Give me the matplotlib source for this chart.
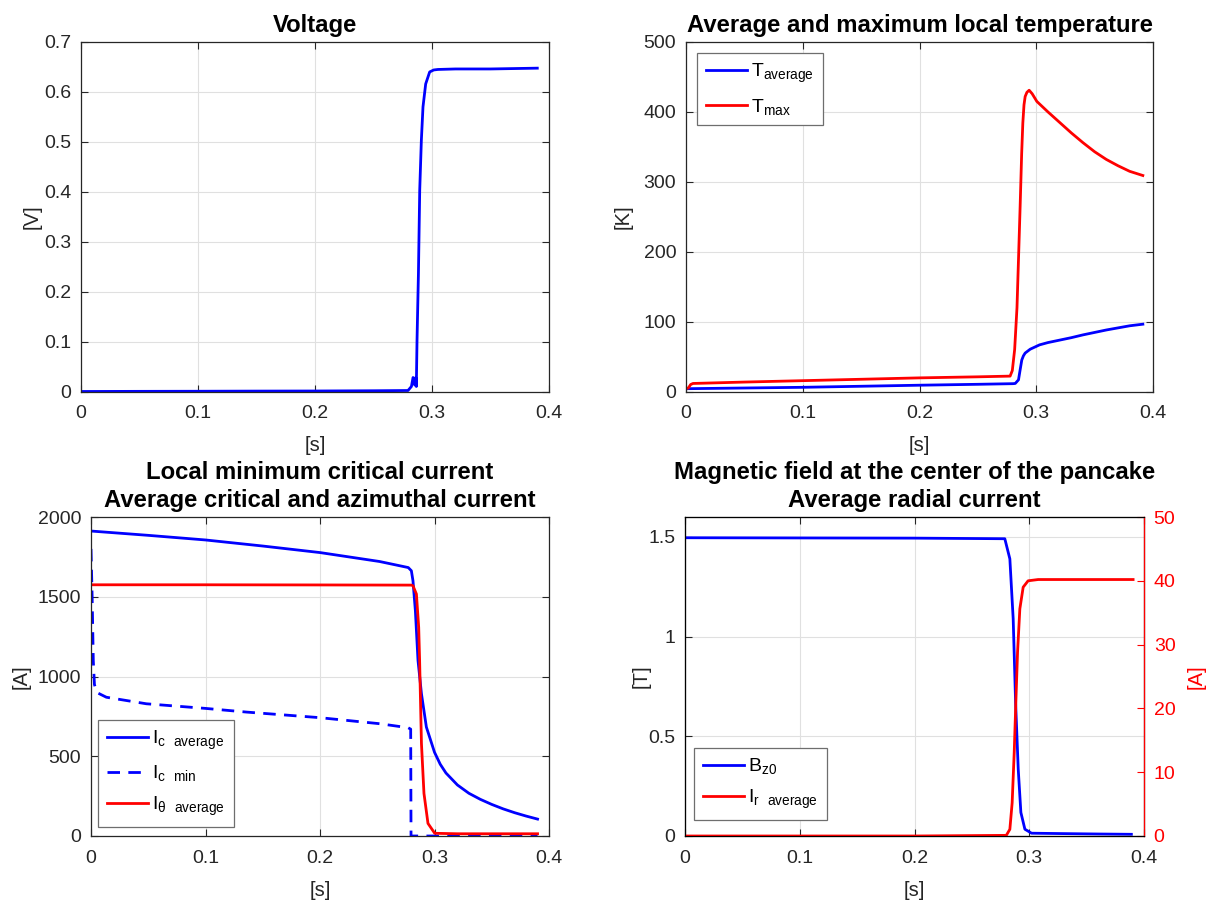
import matplotlib
matplotlib.use("Agg")
import matplotlib.pyplot as plt

plt.rcParams['font.family'] = ['Liberation Sans', 'DejaVu Sans']
plt.rcParams['mathtext.default'] = 'regular'

# ---------------- data ----------------
# Voltage
t_v = [0, 0.05, 0.1, 0.15, 0.2, 0.25, 0.2795, 0.2824, 0.2838, 0.2852, 0.2861, 0.2866,
       0.2872, 0.2884, 0.2895, 0.2909, 0.2923, 0.2946, 0.298, 0.3015, 0.3051, 0.32, 0.35, 0.39]
volt = [0, 0.0003, 0.0005, 0.0008, 0.001, 0.0015, 0.002, 0.01, 0.028, 0.013, 0.028, 0.01,
        0.103, 0.236, 0.403, 0.503, 0.57, 0.616, 0.64, 0.644, 0.645, 0.646, 0.646, 0.6476]

# Temperatures
t_tmax = [0, 0.002, 0.004, 0.006, 0.05, 0.1, 0.15, 0.2, 0.25, 0.2776, 0.2795, 0.2815,
          0.2835, 0.285, 0.2862, 0.2875, 0.2885, 0.2895, 0.2905, 0.292, 0.2939, 0.2965,
          0.3005, 0.31, 0.32, 0.33, 0.34, 0.35, 0.36, 0.37, 0.38, 0.3913]
t_max = [4, 5, 10, 11.5, 13.5, 15.5, 17.5, 19.5, 21, 22, 30, 60,
         120, 200, 265, 340, 384, 410, 422, 428, 431, 426,
         415, 400, 385, 370, 356, 343, 332, 323, 315, 309]

t_tavg = [0, 0.05, 0.1, 0.15, 0.2, 0.25, 0.28, 0.282, 0.2848, 0.2862, 0.2876, 0.289,
          0.2905, 0.2948, 0.3028, 0.31, 0.32, 0.33, 0.34, 0.35, 0.36, 0.37, 0.38, 0.3913]
t_avg = [4, 5, 6, 7.5, 9, 10.3, 11.2, 11.5, 16.7, 31, 45, 51,
         55, 60.5, 66.7, 70, 73.5, 77, 81, 84.5, 88, 91, 94, 96.3]

# Currents (bottom-left)
t_icavg = [0, 0.05, 0.1, 0.15, 0.2, 0.252, 0.2771, 0.2798, 0.2812, 0.2833, 0.2856,
           0.2886, 0.2929, 0.30, 0.305, 0.31, 0.32, 0.33, 0.34, 0.35, 0.36, 0.37,
           0.38, 0.39]
ic_avg = [1912, 1885, 1856, 1818, 1777, 1721, 1683, 1663, 1600, 1412, 1100,
          892, 683, 525, 450, 395, 320, 268, 230, 198, 170, 146,
          125, 106]

t_icmin = [0, 0.001, 0.002, 0.003, 0.005, 0.0134, 0.0483, 0.1, 0.1357, 0.1997, 0.2521,
           0.2769, 0.2792, 0.2795, 0.3, 0.39]
ic_min = [1800, 1500, 1100, 950, 900, 870, 829, 800, 777, 742, 704,
          679, 670, 0, 0, 0]

t_itheta = [0, 0.1, 0.2, 0.2798, 0.2812, 0.2842, 0.2862, 0.287, 0.2886, 0.2908, 0.2943,
            0.3002, 0.32, 0.39]
i_theta = [1575, 1575, 1574, 1573, 1569, 1517, 1308, 1100, 580, 267, 79,
           17, 14, 14]

# Magnetic field and radial current (bottom-right)
t_bz = [0, 0.1, 0.2, 0.2787, 0.2831, 0.286, 0.2881, 0.2904, 0.2927, 0.2962, 0.302,
        0.33, 0.36, 0.389]
bz0 = [1.496, 1.495, 1.494, 1.491, 1.39, 1.089, 0.670, 0.335, 0.118, 0.034, 0.014,
       0.012, 0.010, 0.0085]

t_ir = [0, 0.1, 0.2, 0.28, 0.2831, 0.2851, 0.2869, 0.2883, 0.2898, 0.2918, 0.2947,
        0.299, 0.3078, 0.35, 0.3905]
i_r = [0, 0, 0, 0.1, 1.05, 5.2, 13.1, 20.9, 28.8, 35.6, 39.0,
       40.0, 40.2, 40.2, 40.2]

x_ticks = [0, 0.1, 0.2, 0.3, 0.4]

# ---------------- style ----------------
BLUE = '#0000ff'
RED = '#ff0000'
AXC = '#262626'
LW = 2.0
TICKFS = 14
LABFS = 14.5
TITFS = 17.2
LEGFS = 14


def style(ax, right=True):
    ax.grid(True, color='#e0e0e0', linewidth=0.8)
    ax.set_axisbelow(True)
    ax.tick_params(direction='in', top=True, right=right, length=5,
                   labelsize=TICKFS, colors=AXC, width=0.8)
    ax.tick_params(axis='x', pad=10)
    ax.tick_params(axis='y', pad=7)
    for s in ax.spines.values():
        s.set_color(AXC)
        s.set_linewidth(0.9)
    ax.set_xlim(0, 0.4)
    ax.set_xticks(x_ticks)
    ax.set_xticklabels(['0', '0.1', '0.2', '0.3', '0.4'])
    ax.set_xlabel('[s]', fontsize=LABFS, color=AXC, labelpad=10)


def legend(ax, handles, labels, loc, anchor):
    lg = ax.legend(handles, labels, loc=loc, bbox_to_anchor=anchor,
                   fontsize=LEGFS, fancybox=False,
                   edgecolor='#6e6e6e', framealpha=1, handlelength=2.1,
                   borderaxespad=0, borderpad=0.45, handletextpad=0.25,
                   labelspacing=0.6)
    lg.get_frame().set_linewidth(0.9)
    return lg


fig = plt.figure(figsize=(12.12, 9.02), dpi=100)
W, H = 1212, 902


def axes_px(l, r, t, b):
    return fig.add_axes([l / W, 1 - b / H, (r - l) / W, (b - t) / H])


# Top-left: voltage
ax1 = axes_px(81, 549, 42, 391.5)
ax1.plot(t_v, volt, color=BLUE, lw=LW)
style(ax1)
ax1.set_ylim(0, 0.7)
ax1.set_yticks([0, 0.1, 0.2, 0.3, 0.4, 0.5, 0.6, 0.7])
ax1.set_yticklabels(['0', '0.1', '0.2', '0.3', '0.4', '0.5', '0.6', '0.7'])
ax1.set_ylabel('[V]', fontsize=LABFS, color=AXC, labelpad=1.5)
ax1.set_title('Voltage', fontsize=TITFS, fontweight='bold', color='black', pad=7)

# Top-right: temperatures
ax2 = axes_px(686, 1153, 42, 391.5)
l_avg, = ax2.plot(t_tavg, t_avg, color=BLUE, lw=LW)
l_max, = ax2.plot(t_tmax, t_max, color=RED, lw=LW)
style(ax2)
ax2.set_ylim(0, 500)
ax2.set_yticks([0, 100, 200, 300, 400, 500])
ax2.set_ylabel('[K]', fontsize=LABFS, color=AXC, labelpad=8)
ax2.set_title('Average and maximum local temperature', fontsize=TITFS,
              fontweight='bold', color='black', pad=7)
legend(ax2, [l_avg, l_max], [r'$T_{average}$', r'$T_{max}$'], 'upper left',
       (11 / 467, 1 - 11 / 349.5))

# Bottom-left: currents
ax3 = axes_px(91, 549, 517, 836)
h1, = ax3.plot(t_icavg, ic_avg, color=BLUE, lw=LW)
h2, = ax3.plot(t_icmin, ic_min, color=BLUE, lw=LW, ls=(0, (4.5, 3)))
h3, = ax3.plot(t_itheta, i_theta, color=RED, lw=LW)
style(ax3)
ax3.set_ylim(0, 2000)
ax3.set_yticks([0, 500, 1000, 1500, 2000])
ax3.set_ylabel('[A]', fontsize=LABFS, color=AXC, labelpad=5.5)
ax3.set_title('Local minimum critical current\nAverage critical and azimuthal current',
              fontsize=TITFS, fontweight='bold', color='black', pad=7, linespacing=1.3)
legend(ax3, [h1, h2, h3],
       [r'$I_{c\ \ average}$', r'$I_{c\ \ min}$', r'$I_{\theta\ \ average}$'], 'lower left',
       (7 / 458, 9 / 319))

# Bottom-right: field + radial current
ax4 = axes_px(685, 1144, 517, 836)
b1, = ax4.plot(t_bz, bz0, color=BLUE, lw=LW)
style(ax4, right=False)
ax4.set_ylim(0, 1.6)
ax4.set_yticks([0, 0.5, 1, 1.5])
ax4.set_yticklabels(['0', '0.5', '1', '1.5'])
ax4.set_ylabel('[T]', fontsize=LABFS, color=AXC, labelpad=-2)
ax4.set_title('Magnetic field at the center of the pancake\nAverage radial current',
              fontsize=TITFS, fontweight='bold', color='black', pad=7, linespacing=1.3)
ax4b = ax4.twinx()
b2, = ax4b.plot(t_ir, i_r, color=RED, lw=LW)
ax4b.set_ylim(0, 50)
ax4b.set_yticks([0, 10, 20, 30, 40, 50])
ax4b.tick_params(direction='in', length=5, labelsize=TICKFS, colors=RED, width=0.8, pad=7)
ax4b.spines['right'].set_color(RED)
ax4b.spines['right'].set_linewidth(0.9)
ax4b.set_ylabel('[A]', fontsize=LABFS, color=RED, labelpad=8)
ax4b.set_xlim(0, 0.4)
legend(ax4b, [b1, b2], [r'$B_{z0}$', r'$I_{r\ \ average}$'], 'lower left',
       (9 / 459, 16 / 319))

fig.savefig('out.png', dpi=100)
